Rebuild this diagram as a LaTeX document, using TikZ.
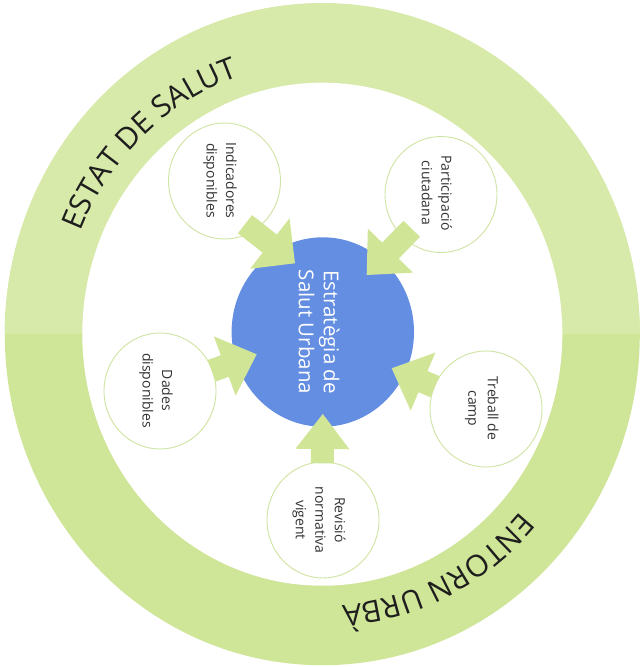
\documentclass[tikz,border=0pt]{standalone}
\usepackage{fontspec}
\setmainfont{Open Sans}
\usetikzlibrary{calc,shapes.geometric,decorations.text}
\definecolor{ringtop}{HTML}{D8EAAA}
\definecolor{ringbot}{HTML}{CFE597}
\definecolor{arrowgreen}{HTML}{D0E596}
\definecolor{centreblue}{HTML}{648EE2}
\definecolor{circedge}{HTML}{CFE4A2}
\definecolor{txtdark}{HTML}{333333}
\definecolor{ringtxt}{HTML}{1E1E1E}
\newcommand\ringfont{\fontsize{30}{30}\selectfont}
% tail, tip, half head width, head length
\newcommand\blockarr[4]{%
  \coordinate (ab) at ($(#2)!#4!(#1)$);
  \fill[arrowfill] ($(#1)!11.5pt!90:(#2)$) -- ($(ab)!11.5pt!90:(#2)$) -- ($(ab)!#3!90:(#2)$) -- (#2)
    -- ($(ab)!#3!-90:(#2)$) -- ($(ab)!11.5pt!-90:(#2)$) -- ($(#1)!11.5pt!-90:(#2)$) -- cycle;}
\begin{document}
\begin{tikzpicture}[x=1pt,y=-1pt,
  smallc/.style={ellipse, draw=circedge, line width=0.9pt, fill=white, minimum width=112pt, minimum height=116pt, inner sep=0pt},
  smalltxt/.style={rotate=-90, align=center, text=txtdark, font=\fontsize{14}{19.5}\selectfont, inner sep=0pt},
  hubtxt/.style={rotate=-90, align=center, text=white, font=\fontsize{20.5}{25}\selectfont, inner sep=0pt},
  arrowfill/.style={fill=arrowgreen}]
\useasboundingbox (0,0) rectangle (643,667);
\fill[white] (0,0) rectangle (643,667);
% ring
\fill[ringbot] (322.3,334.2) ellipse [x radius=317.5, y radius=331];
\begin{scope}
  \clip (0,0) rectangle (643,333.5);
  \fill[ringtop] (322.3,334.2) ellipse [x radius=317.5, y radius=331];
\end{scope}
\fill[white] (322.3,334.2) ellipse [x radius=240, y radius=251.5];
% ring texts
\path[decorate, decoration={text along path, text align=center,
   text={|\ringfont\color{ringtxt}|ESTAT DE SALUT}}]
  (322.3,334.2) ++(-190:261 and 272) arc[start angle=-190, end angle=-75.2, x radius=261, y radius=272];
\path[decorate, decoration={text along path, text align=center,
   text={|\ringfont\color{ringtxt}|ENTORN URBÀ}}]
  (322.3,334.2) ++(5:261 and 272) arc[start angle=5, end angle=122.5, x radius=261, y radius=272];
% hub
\node[ellipse, fill=centreblue, minimum width=182.4pt, minimum height=189.4pt, inner sep=0pt] (hub) at (322.8,332) {};
% small circles
\node[smallc] (ind) at (224.5,181) {};
\node[smallc] (par) at (441,194.5) {};
\node[smallc] (dad) at (160,391) {};
\node[smallc] (tre) at (486,409) {};
\node[smallc] (rev) at (323,520) {};
% arrows
\coordinate (a1t) at (245,224.2);   \coordinate (a1p) at (295,263.3);
\coordinate (a2t) at (411.7,228.8); \coordinate (a2p) at (366.7,275);
\coordinate (a3t) at (211.7,370.8); \coordinate (a3p) at (256.7,354.3);
\coordinate (a4t) at (435,386.7);   \coordinate (a4p) at (391.7,368.3);
\coordinate (a5t) at (322.3,463.3); \coordinate (a5p) at (322.8,414);
\blockarr{a1t}{a1p}{32pt}{32pt}
\blockarr{a2t}{a2p}{31.5pt}{34pt}
\blockarr{a3t}{a3p}{31.5pt}{34pt}
\blockarr{a4t}{a4p}{31.5pt}{34pt}
\blockarr{a5t}{a5p}{27pt}{35pt}
% texts
\node[hubtxt] (hubt) at (319,332) {Estratègia de\\Salut Urbana};
\node[smalltxt] (indt) at (220,180.5) {Indicadores\\disponibles};
\node[smalltxt] (part) at (437,193) {Participació\\ciutadana};
\node[smalltxt] (dadt) at (156,390.5) {Dades\\disponibles};
\node[smalltxt] (tret) at (481.7,408.5) {Treball de\\camp};
\node[smalltxt] (revt) at (319,520) {Revisió\\normativa\\vigent};
\end{tikzpicture}
\end{document}
